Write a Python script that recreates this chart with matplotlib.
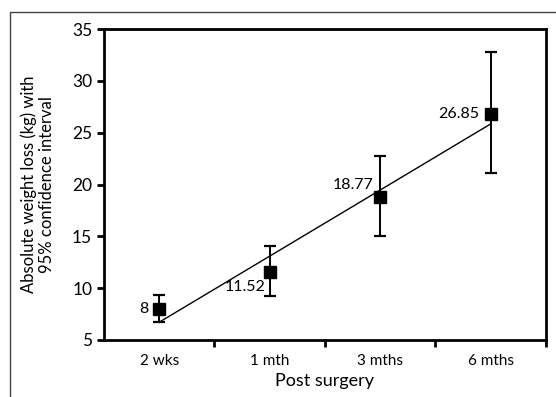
import numpy as np
import matplotlib.pyplot as plt
from matplotlib.patches import Rectangle

# data
periods = ["2 wks", "1 mth", "3 mths", "6 mths"]
weight_loss = [8, 11.52, 18.77, 26.85]
ci_low = [6.7, 9.2, 15.0, 21.1]
ci_high = [9.35, 14.05, 22.75, 32.75]
value_labels = ["8", "11.52", "18.77", "26.85"]

plt.rcParams["font.family"] = ["Lato", "DejaVu Sans"]

fig = plt.figure(figsize=(5.56, 3.97), dpi=100)
ax = fig.add_axes([0.187, 0.1436, 0.795, 0.783])

x = np.arange(len(periods))
y = np.array(weight_loss)
yerr = [y - np.array(ci_low), np.array(ci_high) - y]

# linear trend line
slope, intercept = np.polyfit(x, y, 1)
ax.plot(x, slope * x + intercept, color="black", lw=1.0, zorder=2)

ax.errorbar(x, y, yerr=yerr, fmt="s", color="black", ms=9, elinewidth=1.4,
            capsize=4, capthick=1.6, zorder=3)

# label offsets in pixels
offsets = [(-11, 0), (-4, -15), (-7, 12), (-12, 0)]
for xi, yi, lab, (dx, dy) in zip(x, y, value_labels, offsets):
    ax.annotate(lab, (xi, yi), xytext=(dx, dy), textcoords="offset pixels",
                ha="right", va="center", fontsize=11.5)

ax.set_xlim(-0.5, len(periods) - 0.5)
ax.set_ylim(5, 35)
ax.set_yticks(range(5, 36, 5))
ax.set_xticks(x)
ax.set_xticklabels(periods, fontsize=11)
ax.set_xticks(np.arange(0.5, len(periods), 1), minor=True)
ax.tick_params(axis="x", which="major", length=0, pad=10)
ax.tick_params(axis="x", which="minor", length=5, width=2, direction="out")
ax.tick_params(axis="y", labelsize=12.5, length=5, width=2, direction="out")
for sp in ax.spines.values():
    sp.set_linewidth(2)

ax.set_xlabel("Post surgery", fontsize=13, labelpad=4)
ax.set_ylabel("Absolute weight loss (kg) with\n95% confidence interval", fontsize=12,
              labelpad=12, linespacing=1.2)

# outer frame
fig.patches.append(Rectangle((10 / 556, -0.05), 1.2, 1 - 12 / 397 + 0.05,
                             transform=fig.transFigure, fill=False,
                             edgecolor="#444444", lw=1.0))

fig.savefig("out.png", dpi=100)
